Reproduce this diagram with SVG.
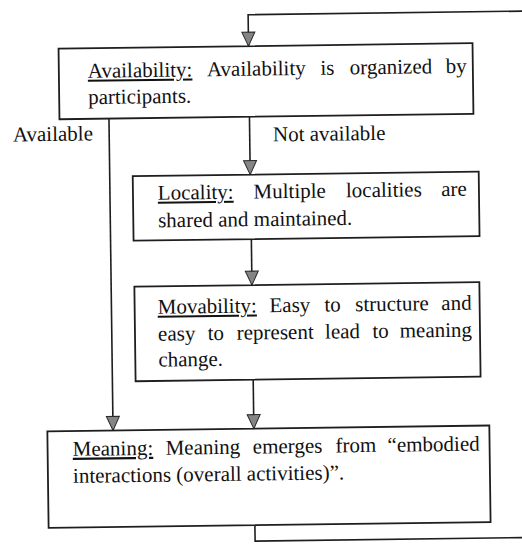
<svg xmlns="http://www.w3.org/2000/svg" width="522" height="546" viewBox="0 0 522 546">
<style>
  .box { fill: #fff; stroke: #1e1e1e; stroke-width: 1.8; }
  .conn { fill: none; stroke: #1e1e1e; stroke-width: 1.6; }
  .t { font-family: "Liberation Serif", "Times New Roman", serif; font-size: 21px; fill: #111; }
  .u { text-decoration: underline; }
</style>
<defs>
  <marker id="ah" markerUnits="userSpaceOnUse" viewBox="-1 -1 16 15" markerWidth="16" markerHeight="15" refX="14" refY="6.5" orient="auto" overflow="visible">
    <path d="M0,0 L14,6.5 L0,13 z" fill="#858585" stroke="#2a2a2a" stroke-width="1"/>
  </marker>
</defs>
<rect width="522" height="546" fill="#fff"/>
<g transform="rotate(-0.75 261 273)">
  <g id="connectors">
    <polyline class="conn" points="545,14.6 251.5,14.6 251.5,46" marker-end="url(#ah)"/>
    <line class="conn" x1="111" y1="116.6" x2="111" y2="428.5" marker-end="url(#ah)"/>
    <line class="conn" x1="251.5" y1="116.6" x2="251.5" y2="174.5" marker-end="url(#ah)"/>
    <line class="conn" x1="251.8" y1="239" x2="251.8" y2="285" marker-end="url(#ah)"/>
    <line class="conn" x1="251.8" y1="379.6" x2="251.8" y2="428.5" marker-end="url(#ah)"/>
    <polyline class="conn" points="251.6,525 251.6,541 545,541"/>
    <text class="t" x="14.7" y="138.2">Available</text>
    <text class="t" x="274.7" y="141.5">Not available</text>
  </g>
  <g id="availability">
    <rect class="box" x="61.5" y="46" width="414" height="70.6"/>
    <text class="t" y="75.5"><tspan class="u" x="90.4">Availability:</tspan><tspan x="209.6">Availability</tspan><tspan x="323.1">is</tspan><tspan x="352.4">organized</tspan><tspan x="469.4" text-anchor="end">by</tspan></text>
    <text class="t" x="90.4" y="101.8">participants.</text>
  </g>
  <g id="locality">
    <rect class="box" x="134" y="174.5" width="346" height="64.5"/>
    <text class="t" y="198.4"><tspan class="u" x="158.8">Locality:</tspan><tspan x="254.6">Multiple</tspan><tspan x="347">localities</tspan><tspan x="467.8" text-anchor="end">are</tspan></text>
    <text class="t" x="158.8" y="226">shared and maintained.</text>
  </g>
  <g id="movability">
    <rect class="box" x="134.2" y="285" width="345" height="94.6"/>
    <text class="t" y="312.4"><tspan class="u" x="157.2">Movability:</tspan><tspan x="269">Easy</tspan><tspan x="323.9">to</tspan><tspan x="354.8">structure</tspan><tspan x="471.2" text-anchor="end">and</tspan></text>
    <text class="t" y="339.4"><tspan x="157.2">easy</tspan><tspan x="206.8">to</tspan><tspan x="235.9">represent</tspan><tspan x="324.2">lead</tspan><tspan x="371.6">to</tspan><tspan x="471.2" text-anchor="end">meaning</tspan></text>
    <text class="t" x="157.2" y="365.2">change.</text>
  </g>
  <g id="meaning">
    <rect class="box" x="45.3" y="428.5" width="442" height="96.5"/>
    <text class="t" y="453.4"><tspan class="u" x="70.4">Meaning:</tspan><tspan x="163.3">Meaning</tspan><tspan x="250.5">emerges</tspan><tspan x="333.1">from</tspan><tspan x="477.4" text-anchor="end">“embodied</tspan></text>
    <text class="t" x="70.4" y="480.4">interactions (overall activities)”.</text>
  </g>
</g>
</svg>
